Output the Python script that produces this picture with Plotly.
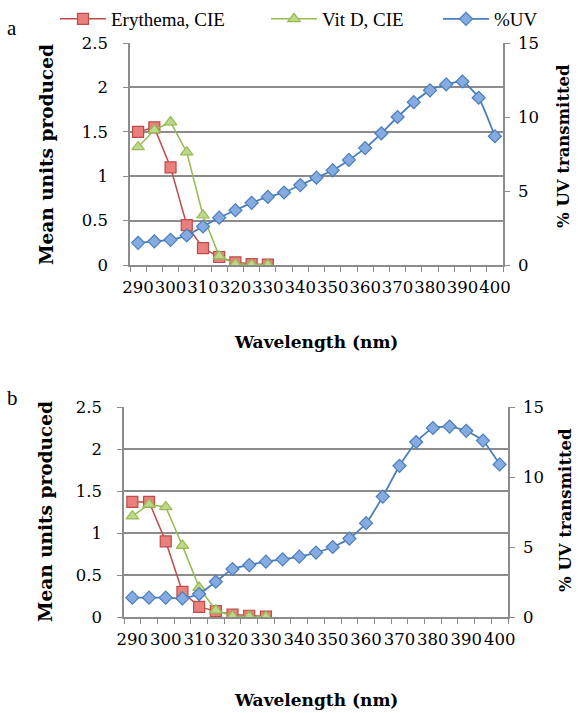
import plotly.graph_objects as go

# categories (nm)
wavelength = [290, 295, 300, 305, 310, 315, 320, 325, 330, 335, 340, 345,
              350, 355, 360, 365, 370, 375, 380, 385, 390, 395, 400]
action_wl = [290, 295, 300, 305, 310, 315, 320, 325, 330]
tick_labels = [290, 300, 310, 320, 330, 340, 350, 360, 370, 380, 390, 400]

# panel a
ery_a = [1.50, 1.55, 1.10, 0.45, 0.19, 0.09, 0.03, 0.01, 0.005]
vitd_a = [1.33, 1.52, 1.61, 1.27, 0.56, 0.10, 0.01, 0.005, 0.002]
uv_a = [1.5, 1.6, 1.7, 2.0, 2.6, 3.2, 3.7, 4.2, 4.6, 4.9, 5.4, 5.9,
        6.4, 7.1, 7.9, 8.9, 10.0, 11.0, 11.8, 12.2, 12.4, 11.3, 8.7]

# panel b
ery_b = [1.37, 1.37, 0.90, 0.30, 0.12, 0.07, 0.03, 0.015, 0.005]
vitd_b = [1.20, 1.34, 1.31, 0.85, 0.35, 0.08, 0.01, 0.005, 0.002]
uv_b = [1.38, 1.38, 1.38, 1.33, 1.64, 2.52, 3.43, 3.71, 3.95, 4.12, 4.31, 4.6,
        5.0, 5.6, 6.7, 8.6, 10.8, 12.5, 13.5, 13.6, 13.3, 12.6, 10.9]

W, H = 578, 713
FONT = "DejaVu Serif"
TEXT_FONT = "Liberation Serif"
GRID = "#8c8c8c"

RED, RED_FILL = "#BE4B48", "#E8817E"
GREEN, GREEN_FILL = "#98B954", "#BCD98A"
BLUE, BLUE_FILL = "#4A7EBB", "#86ABE0"


def px_x(p):
    return p / W


def px_y(p):
    return 1 - p / H


fig = go.Figure()


def add_panel(xa, ya, ya2, ery, vitd, uv, legend):
    fig.add_trace(go.Scatter(x=action_wl, y=ery, mode="lines+markers", name="Erythema, CIE",
                             xaxis=xa, yaxis=ya, legend="legend", showlegend=legend,
                             line=dict(color=RED, width=1.5),
                             marker=dict(symbol="square", size=11, color=RED_FILL,
                                         line=dict(color=RED, width=1.2))))
    fig.add_trace(go.Scatter(x=action_wl, y=vitd, mode="lines+markers", name="Vit D, CIE",
                             xaxis=xa, yaxis=ya, legend="legend2", showlegend=legend,
                             line=dict(color=GREEN, width=1.5),
                             marker=dict(symbol="triangle-up", size=11, color=GREEN_FILL,
                                         line=dict(color=GREEN, width=1.2))))
    fig.add_trace(go.Scatter(x=wavelength, y=uv, mode="lines+markers", name="%UV",
                             xaxis=xa, yaxis=ya2, legend="legend3", showlegend=legend,
                             line=dict(color=BLUE, width=1.8, shape="spline", smoothing=0.5),
                             marker=dict(symbol="diamond", size=10, color=BLUE_FILL,
                                         line=dict(color=BLUE, width=1.2))))


add_panel("x", "y", "y2", ery_a, vitd_a, uv_a, True)
add_panel("x2", "y3", "y4", ery_b, vitd_b, uv_b, False)

tickfont = dict(family=FONT, size=16.5, color="black")


def xaxis_cfg(left, right, anchor):
    return dict(domain=[px_x(left), px_x(right)], anchor=anchor,
                range=[287.5, 402.5], tickvals=tick_labels, ticks="", tickangle=0,
                showgrid=False, zeroline=False, showline=True,
                linecolor=GRID, linewidth=1.5, tickfont=tickfont, ticklabelstandoff=6,
                minor=dict(tick0=287.5, dtick=5, ticks="outside", ticklen=5,
                           tickcolor=GRID, tickwidth=1.2, showgrid=False))


def yaxis_cfg(top, bottom, anchor):
    return dict(domain=[px_y(bottom), px_y(top)], anchor=anchor,
                range=[0, 2.5], dtick=0.5, tickformat="~g",
                showgrid=True, gridcolor=GRID, gridwidth=1.5, zeroline=False,
                showline=True, linecolor=GRID, linewidth=1.5,
                ticks="outside", ticklen=5, tickcolor=GRID, tickwidth=1.2,
                tickfont=tickfont, ticklabelstandoff=12)


def yaxis2_cfg(over, anchor):
    return dict(overlaying=over, side="right", anchor=anchor,
                range=[0, 15], dtick=5, showgrid=False, zeroline=False,
                showline=True, linecolor=GRID, linewidth=1.5,
                ticks="outside", ticklen=5, tickcolor=GRID, tickwidth=1.2,
                tickfont=tickfont, ticklabelstandoff=5)


leg_font = dict(family=TEXT_FONT, size=19, color="black")


def leg(xp):
    return dict(x=px_x(xp), y=1, xanchor="left", yanchor="top",
                orientation="h", font=leg_font, itemwidth=46,
                bgcolor="rgba(0,0,0,0)", borderwidth=0)


def note(xp, yp, txt, size, angle=0, family=FONT):
    return dict(x=px_x(xp), y=px_y(yp), xref="paper", yref="paper",
                xanchor="center", yanchor="middle", textangle=angle,
                text=txt, showarrow=False, font=dict(family=family, size=size, color="black"))


annotations = [
    note(12, 28, "a", 21, family=TEXT_FONT),
    note(12, 398, "b", 21, family=TEXT_FONT),
    note(47, 155, "<b>Mean units produced</b>", 18.5, -90),
    note(45, 512, "<b>Mean units produced</b>", 18.5, -90),
    note(563, 146, "<b>% UV transmitted</b>", 16.5, -90),
    note(565, 510, "<b>% UV transmitted</b>", 16.5, -90),
    note(316, 342, "<b>Wavelength (nm)</b>", 17),
    note(316, 700, "<b>Wavelength (nm)</b>", 17),
]

fig.update_layout(
    width=W, height=H,
    margin=dict(l=0, r=0, t=0, b=0, autoexpand=False),
    paper_bgcolor="white", plot_bgcolor="white",
    font=dict(family=FONT, color="black"),
    xaxis=xaxis_cfg(130, 503, "y"),
    yaxis=yaxis_cfg(43, 265, "x"),
    yaxis2=yaxis2_cfg("y", "x"),
    xaxis2=xaxis_cfg(124, 508, "y3"),
    yaxis3=yaxis_cfg(407, 617, "x2"),
    yaxis4=yaxis2_cfg("y3", "x2"),
    legend=leg(55),
    legend2=leg(266),
    legend3=leg(438),
    annotations=annotations,
)

# drop the browser's default page margin so the figure sits at the top-left corner
fig.write_html("out.html", config={"displayModeBar": False},
               post_script="document.body.style.margin = '0';")
